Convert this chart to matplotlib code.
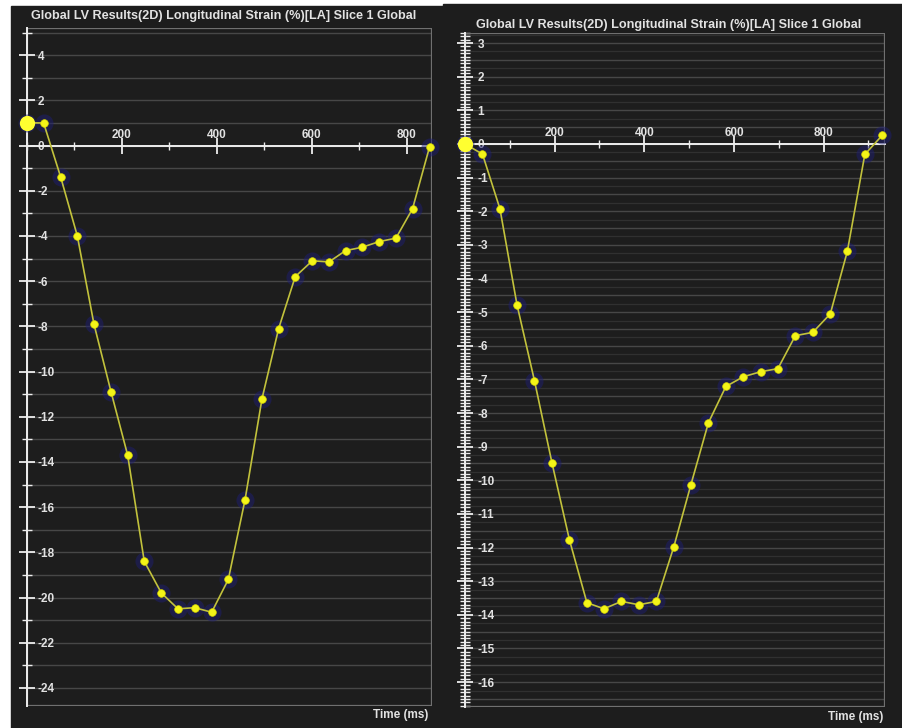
import matplotlib
matplotlib.use("Agg")
import matplotlib.pyplot as plt
import numpy as np
from matplotlib.patches import Rectangle
from matplotlib.ticker import MultipleLocator

# ---------------------------------------------------------------------------
# Data
# ---------------------------------------------------------------------------
TITLE = "Global LV Results(2D) Longitudinal Strain (%)[LA] Slice 1 Global"
XLABEL = "Time (ms)"

left_t = [0, 35, 71, 106, 141, 177, 212, 247, 283, 318, 353, 389, 424,
          459, 495, 530, 565, 601, 636, 671, 706, 742, 777, 812, 848]
left_v = [1.0, 1.0, -1.4, -4.0, -7.9, -10.9, -13.7, -18.4, -19.8, -20.5,
          -20.45, -20.65, -19.2, -15.7, -11.2, -8.1, -5.8, -5.1, -5.15,
          -4.65, -4.5, -4.25, -4.1, -2.8, -0.05]

right_t = [0, 39, 78, 116, 155, 194, 233, 272, 310, 349, 388, 427, 466,
           504, 543, 582, 621, 660, 698, 737, 776, 815, 853, 892, 931]
right_v = [0.0, -0.3, -1.93, -4.78, -7.04, -9.48, -11.77, -13.64, -13.82,
           -13.6, -13.7, -13.6, -11.97, -10.13, -8.29, -7.21, -6.92, -6.77,
           -6.68, -5.7, -5.6, -5.05, -3.19, -0.31, 0.26]

left_yticks = [4, 2, 0, -2, -4, -6, -8, -10, -12, -14, -16, -18, -20, -22, -24]
right_yticks = [3, 2, 1, 0, -1, -2, -3, -4, -5, -6, -7, -8, -9, -10, -11,
                -12, -13, -14, -15, -16]
xticks = [200, 400, 600, 800]

BG = "#1d1d1d"
TXT = "#e2e2e2"
FRAME = "#707070"
GRID = "#474747"
GRID_FAINT = "#303030"
LINE = "#c2c23c"
DOT = "#f4f418"
GLOW = "#1e1e72"

plt.rcParams["font.family"] = ["Liberation Sans", "DejaVu Sans"]

fig = plt.figure(figsize=(9.03, 7.28), dpi=100, facecolor="white")

# dark panel backgrounds (behind the axes)
fig.patches.append(Rectangle((11 / 903, 0), 432 / 903, 1 - 6 / 728,
                             transform=fig.transFigure, color=BG, zorder=-5))
fig.patches.append(Rectangle((443 / 903, 0), 460 / 903, 1 - 4 / 728,
                             transform=fig.transFigure, color=BG, zorder=-5))


def strain_panel(rect, t, v, xlim, ylim, yticks, minor_y, grid_main, grid_faint,
                 ypad):
    ax = fig.add_axes(rect)
    ax.set_facecolor(BG)
    ax.set_xlim(*xlim)
    ax.set_ylim(*ylim)

    for y in grid_faint:
        ax.axhline(y, color=GRID_FAINT, lw=0.9, zorder=1)
    for y in grid_main:
        ax.axhline(y, color=GRID, lw=1.0, zorder=1)

    # frame
    ax.add_patch(Rectangle((0, 0), 1, 1, transform=ax.transAxes, fill=False,
                           edgecolor=FRAME, lw=1.6, zorder=2))
    ax.spines["top"].set_visible(False)
    ax.spines["right"].set_visible(False)
    ax.spines["left"].set_position(("data", 0))
    ax.spines["bottom"].set_position(("data", 0))
    for s in ("left", "bottom"):
        ax.spines[s].set_color("#eeeeee")
        ax.spines[s].set_linewidth(1.4)
        ax.spines[s].set_zorder(3)

    ax.set_xticks(xticks, [str(x) for x in xticks], fontweight="bold")
    ax.xaxis.set_minor_locator(MultipleLocator(100))
    ax.tick_params(axis="x", which="major", direction="inout", length=11,
                   width=1.3, color="#eeeeee", pad=-17.5, labelsize=8.5,
                   labelcolor=TXT)
    ax.tick_params(axis="x", which="minor", direction="inout", length=6,
                   width=1.0, color="#eeeeee")

    ax.set_yticks(yticks, [str(y) for y in yticks], ha="left",
                  fontweight="bold")
    ax.yaxis.set_minor_locator(MultipleLocator(minor_y))
    ax.tick_params(axis="y", which="major", direction="inout", length=12,
                   width=1.3, color="#eeeeee", pad=ypad, labelsize=8.5,
                   labelcolor=TXT)
    ax.tick_params(axis="y", which="minor", direction="inout", length=7,
                   width=1.0, color="#eeeeee")

    # curve with dark blue halo around the sample dots
    ax.plot(t, v, "o", ms=13, color=GLOW, alpha=0.5, mec="none", zorder=4,
            clip_on=False)
    ax.plot(t, v, "-", color=LINE, lw=1.2, zorder=5, clip_on=False)
    ax.plot(t, v, "o", ms=5.5, color=DOT, mec="#d8d800", mew=0.5, zorder=6,
            clip_on=False)
    ax.plot(t[:1], v[:1], "o", ms=11, color="#ffff30", mec="none", zorder=7,
            clip_on=False)
    return ax


strain_panel([27 / 903, 1 - 706 / 728, 405 / 903, 678 / 728],
             left_t, left_v, (0, 853), (-24.8, 5.2), left_yticks, 1,
             np.arange(-24, 6, 1), [], -13.5)

strain_panel([465 / 903, 1 - 707 / 728, 420 / 903, 674 / 728],
             right_t, right_v, (0, 937), (-16.74, 3.3), right_yticks, 0.1,
             np.arange(-16.5, 3.5, 0.5), np.arange(-16.75, 3.3, 0.5), -15)

fig.text(0.248, 0.978, TITLE, ha="center", va="center", fontsize=9.1,
         color=TXT, fontweight="bold")
fig.text(0.741, 0.966, TITLE, ha="center", va="center", fontsize=9.1,
         color=TXT, fontweight="bold")
fig.text(0.474, 0.018, XLABEL, ha="right", va="center", fontsize=8.5,
         color=TXT, fontweight="bold")
fig.text(0.978, 0.015, XLABEL, ha="right", va="center", fontsize=8.5,
         color=TXT, fontweight="bold")

fig.savefig("out.png", dpi=100, facecolor="white")
